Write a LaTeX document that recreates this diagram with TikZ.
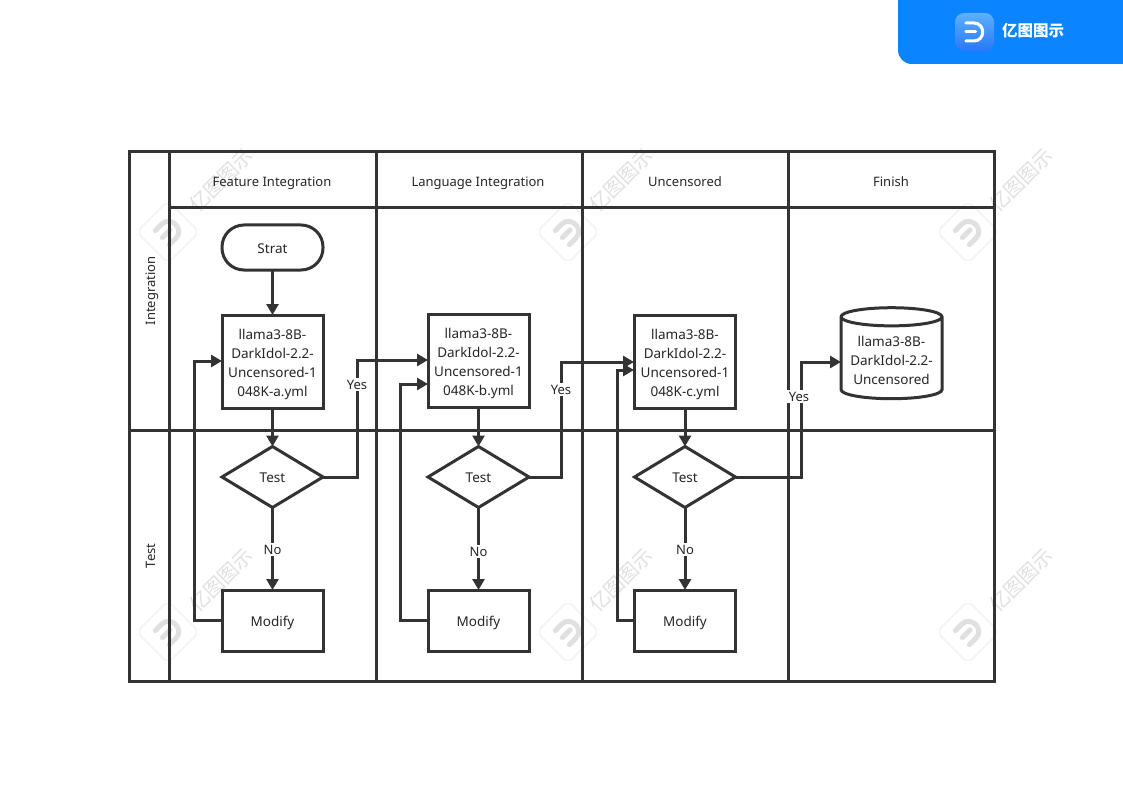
\documentclass[tikz,border=0pt]{standalone}
\usepackage{fontspec}
\setmainfont{Noto Sans}
\newfontfamily\cjkfont{Noto Sans CJK SC}
\usetikzlibrary{arrows.meta,shapes.geometric}
\definecolor{ink}{HTML}{333333}
\definecolor{brand}{HTML}{0A84FF}
\definecolor{brandlight}{HTML}{5BB0FF}
\definecolor{branddark}{HTML}{2878F8}
\definecolor{wmline}{HTML}{EDEDED}
\definecolor{wmmark}{HTML}{E0E0E0}
\newcommand{\dmark}[2]{%
    \draw[#1,line width=#2,line cap=round] (-8,-10) -- (1,-10) .. controls (14,-10) and (14,10) .. (1,10) -- (-8,10);
    \draw[#1,line width=#2,line cap=round] (-8,0) -- (3,0);
}
\begin{document}
\begin{tikzpicture}[x=1pt,y=-1pt,font=\fontsize{13}{19}\selectfont,text=black!85]
        \tikzstyle{lane}=[draw=ink,line width=3pt,line cap=round]
        \tikzstyle{oneline}=[text height=12pt,text depth=0pt]
        \tikzstyle{shortline}=[text height=10pt,text depth=0pt]
        \tikzstyle{shapebox}=[draw=ink,line width=3pt,fill=white,outer sep=0pt,inner sep=0pt,align=center,font=\fontsize{13.5}{19}\selectfont]
        \tikzstyle{process}=[shapebox,rectangle,minimum width=101pt,minimum height=93pt]
        \tikzstyle{fixbox}=[shapebox,oneline,rectangle,minimum width=101pt,minimum height=61pt]
        \tikzstyle{decision}=[shapebox,shortline,diamond,minimum width=101pt,minimum height=61pt]
        \tikzstyle{terminal}=[shapebox,oneline,rounded corners=22pt,minimum width=101pt,minimum height=45pt]
        \tikzstyle{store}=[shapebox,cylinder,shape border rotate=90,aspect=0.22,minimum width=101pt,minimum height=91pt]
        \tikzstyle{flow}=[draw=ink,line width=3pt,-{Triangle[length=11pt,width=12pt]}]
        \tikzstyle{back}=[flow]
        \tikzstyle{edgelabel}=[shortline,fill=white,inner sep=1.5pt]
        \useasboundingbox (0,0) rectangle (1123,794);

        % Watermarks
        \foreach \wx in {0,400,800}
            \foreach \wy in {0,400} {
                \begin{scope}[shift={(168+\wx,232+\wy)},rotate=45]
                    \draw[wmline,line width=1pt,rounded corners=7pt] (-22,-22) rectangle (22,22);
                    \dmark{wmmark}{5pt}
                \end{scope}
                \node[rotate=45,text=wmmark,font=\cjkfont\fontsize{20}{20}\selectfont] (wm-\wx-\wy) at (221+\wx,180+\wy) {亿图图示};
            }

        % Brand tab
        \fill[brand] (898,0) -- (1123,0) -- (1123,64) -- (912,64) .. controls (904,64) and (898,58) .. (898,50) -- cycle;
        \shade[top color=brandlight,bottom color=branddark,rounded corners=9pt] (955,13) rectangle (994,51);
        \begin{scope}[shift={(973,32)},scale=0.9]
            \dmark{white}{3pt}
        \end{scope}
        \node[text=white,font=\cjkfont\bfseries\fontsize{15.5}{16}\selectfont] (brandname) at (1033,31) {亿图图示};

        % Swimlane grid
        \draw[lane] (129.5,152) rectangle (994.5,681);
        \draw[lane] (169.5,208) -- (994.5,208);
        \draw[lane] (129.5,430) -- (994.5,430);
        \foreach \x in {169.5,376,582,788}
            \draw[lane] (\x,152) -- (\x,681);

        % Lane titles
        \node[oneline] (h-1) at (272,181) {Feature Integration};
        \node[oneline] (h-2) at (478,181) {Language Integration};
        \node[oneline] (h-3) at (685,181) {Uncensored};
        \node[oneline] (h-4) at (891,181) {Finish};
        \node[oneline,rotate=90] (l-1) at (149,291) {Integration};
        \node[oneline,rotate=90] (l-2) at (149,556) {Test};

        % Start and finish
        \node[terminal] (start) at (272.5,247.5) {Strat};
        \node[store] (db) at (891.5,352.5) [yshift=-6pt] {\rule{0pt}{14pt}llama3-8B-\\DarkIdol-2.2-\\Uncensored};

        % One column of steps for each yml file
        \foreach \n / \x / \ytop / \tag in {1/272.5/361.5/a,2/478.5/360.5/b,3/685/361.5/c} {
            \node[process] (p-\n) at (\x,\ytop) {\rule{0pt}{16pt}llama3-8B-\\DarkIdol-2.2-\\Uncensored-1\\048K-\tag.yml};
            \node[decision] (d-\n) at (\x,477) {Test};
            \node[fixbox] (m-\n) at (\x,620.5) {Modify};
            \draw[flow] (p-\n) -- (d-\n);
            \draw[flow] (d-\n) -- (m-\n);
        }
        \draw[flow] (start) -- (p-1);

        % Free ends of the connectors
        \coordinate (in-1) at (222,361);
        \coordinate (in-2) at (428,384);
        \coordinate (in-3) at (634,370);
        \coordinate (yes-2) at (428,360);
        \coordinate (yes-3) at (634,362);
        \coordinate (yes-4) at (841,362);
        \coordinate (turn-1) at (194,361);
        \coordinate (turn-2) at (400,384);
        \coordinate (turn-3) at (617,370);
        \coordinate (up-1) at (357,360);
        \coordinate (up-2) at (561,362);
        \coordinate (up-3) at (801,362);

        % Modify goes back to the yml file
        \foreach \n in {1,2,3}
            \draw[back] (m-\n.west) -| (turn-\n) -- (in-\n);

        % Test passed
        \draw[flow] (d-1.east) -| (up-1) -- (yes-2);
        \draw[flow] (d-2.east) -| (up-2) -- (yes-3);
        \draw[flow] (d-3.east) -| (up-3) -- (yes-4);

        \node[edgelabel] (y-1) at (357,384) {Yes};
        \node[edgelabel] (y-2) at (561,389) {Yes};
        \node[edgelabel] (y-3) at (799,396) {Yes};
        \node[edgelabel] (n-1) at (272.5,549) {No};
        \node[edgelabel] (n-2) at (478.5,551) {No};
        \node[edgelabel] (n-3) at (685,549) {No};
\end{tikzpicture}
\end{document}
